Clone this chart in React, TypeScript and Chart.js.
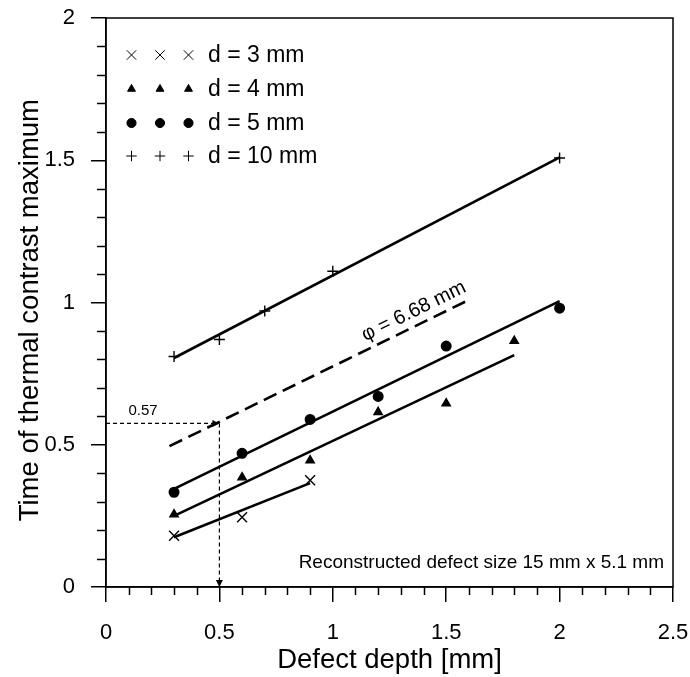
import React, { useEffect, useRef } from 'react';
import { Chart, registerables } from 'chart.js';
import { drawPoint } from 'chart.js/helpers';

Chart.register(...registerables);

const FONT = '"Liberation Sans", Arial, Helvetica, sans-serif';

// Measured series
const d3X = [0.3, 0.6, 0.9];
const d3Y = [0.18, 0.245, 0.375];
const d4X = [0.3, 0.6, 0.9, 1.2, 1.5, 1.8];
const d4Y = [0.255, 0.385, 0.445, 0.615, 0.645, 0.865];
const d5X = [0.3, 0.6, 0.9, 1.2, 1.5, 2.0];
const d5Y = [0.333, 0.47, 0.589, 0.67, 0.847, 0.98];
const d10X = [0.3, 0.5, 0.7, 1.0, 2.0];
const d10Y = [0.81, 0.87, 0.97, 1.11, 1.508];

// Fitted lines (start/end)
const fit3X = [0.3, 0.9];
const fit3Y = [0.175, 0.365];
const fit4X = [0.3, 1.8];
const fit4Y = [0.25, 0.815];
const fit5X = [0.3, 2.0];
const fit5Y = [0.345, 1.005];
const fit10X = [0.3, 2.0];
const fit10Y = [0.805, 1.51];
const phiX = [0.28, 1.61];
const phiY = [0.495, 1.013];

// Guide (reading of 0.57 at depth 0.5)
const guideDepth = 0.5;
const guideTime = 0.575;

const legendLabels = ['d = 3 mm', 'd = 4 mm', 'd = 5 mm', 'd = 10 mm'];
const pointStyles = ['crossRot', 'triangle', 'circle', 'cross'];
const pointRadii = [7, 4.8, 4.8, 5.5];

const xTicks = [0, 0.5, 1, 1.5, 2, 2.5];
const yTicks = [0, 0.5, 1, 1.5, 2];
const minorStep = 0.1;

const phiLabel = 'φ = 6.68 mm';
const guideLabel = '0.57';
const noteLabel = 'Reconstructed defect size 15 mm x 5.1 mm';

const pts = (xs: number[], ys: number[]) => xs.map((x, i) => ({ x, y: ys[i] }));

const minorTicksPlugin = {
  id: 'minorTicks',
  afterDraw(chart: any) {
    const { ctx, chartArea, scales } = chart;
    const xs = scales.x;
    const ys = scales.y;
    ctx.save();
    ctx.strokeStyle = '#000';
    ctx.lineWidth = 1.5;
    ctx.beginPath();
    for (let i = 1; i < 25; i++) {
      if (i % 5 === 0) continue;
      const px = Math.round(xs.getPixelForValue(i * minorStep)) + 0.5;
      ctx.moveTo(px, chartArea.bottom);
      ctx.lineTo(px, chartArea.bottom + 8);
    }
    for (let i = 1; i < 20; i++) {
      if (i % 5 === 0) continue;
      const py = Math.round(ys.getPixelForValue(i * minorStep)) + 0.5;
      ctx.moveTo(chartArea.left, py);
      ctx.lineTo(chartArea.left - 9, py);
    }
    ctx.stroke();
    // frame
    ctx.lineWidth = 1.5;
    ctx.strokeRect(chartArea.left, chartArea.top, chartArea.right - chartArea.left, chartArea.bottom - chartArea.top);
    ctx.restore();
  },
};

const annotationsPlugin = {
  id: 'annotations',
  afterDraw(chart: any) {
    const { ctx, chartArea, scales } = chart;
    const xs = scales.x;
    const ys = scales.y;
    ctx.save();
    ctx.fillStyle = '#000';
    ctx.strokeStyle = '#000';

    // arrowheads on guides
    const gx = xs.getPixelForValue(guideDepth);
    const gy = ys.getPixelForValue(guideTime);
    const y0 = ys.getPixelForValue(0);
    ctx.beginPath();
    ctx.moveTo(gx, gy);
    ctx.lineTo(gx - 7, gy - 3.5);
    ctx.lineTo(gx - 7, gy + 3.5);
    ctx.closePath();
    ctx.fill();
    ctx.beginPath();
    ctx.moveTo(gx, y0);
    ctx.lineTo(gx - 3.5, y0 - 7);
    ctx.lineTo(gx + 3.5, y0 - 7);
    ctx.closePath();
    ctx.fill();

    // guide label
    ctx.font = `15px ${FONT}`;
    ctx.textAlign = 'center';
    ctx.textBaseline = 'middle';
    ctx.fillText(guideLabel, chartArea.left + 37, gy - 13);

    // note
    ctx.font = `19px ${FONT}`;
    ctx.textAlign = 'right';
    ctx.fillText(noteLabel, chartArea.right - 9, chartArea.bottom - 24);

    // phi label along dashed line
    const p1x = xs.getPixelForValue(phiX[0]);
    const p1y = ys.getPixelForValue(phiY[0]);
    const p2x = xs.getPixelForValue(phiX[1]);
    const p2y = ys.getPixelForValue(phiY[1]);
    const ang = Math.atan2(p2y - p1y, p2x - p1x);
    const t = 0.83;
    const cx = p1x + (p2x - p1x) * t;
    const cy = p1y + (p2y - p1y) * t;
    ctx.translate(cx, cy);
    ctx.rotate(ang);
    ctx.font = `20px ${FONT}`;
    ctx.textAlign = 'center';
    ctx.textBaseline = 'middle';
    ctx.fillText(phiLabel, 0, -14);
    ctx.restore();

    // legend
    ctx.save();
    ctx.fillStyle = '#000';
    ctx.strokeStyle = '#000';
    const rowY = [55, 89, 123, 156];
    const markX = [131.5, 160, 188.5];
    legendLabels.forEach((lab, i) => {
      markX.forEach((mx) => {
        ctx.beginPath();
        drawPoint(ctx, { pointStyle: pointStyles[i], radius: pointRadii[i] * 0.95, rotation: 0, borderWidth: 1.4 } as any, mx, rowY[i]);
      });
      ctx.font = `23px ${FONT}`;
      ctx.textAlign = 'left';
      ctx.textBaseline = 'middle';
      ctx.fillText(lab, 208, rowY[i] + 1);
    });
    ctx.restore();
  },
};

export default function App() {
  const ref = useRef<HTMLCanvasElement | null>(null);
  useEffect(() => {
    if (!ref.current) return;
    const markerSets = [pts(d3X, d3Y), pts(d4X, d4Y), pts(d5X, d5Y), pts(d10X, d10Y)];
    const scatterSets = markerSets.map((data, i) => ({
      label: legendLabels[i],
      data,
      showLine: false,
      pointStyle: pointStyles[i],
      pointRadius: pointRadii[i],
      pointBackgroundColor: '#000',
      pointBorderColor: '#000',
      pointBorderWidth: 1.4,
    }));
    const lineSet = (xs: number[], ys: number[], dash: number[] = [], width = 2.6) => ({
      data: pts(xs, ys),
      showLine: true,
      borderColor: '#000',
      borderWidth: width,
      borderDash: dash,
      pointRadius: 0,
      fill: false,
      borderCapStyle: 'butt',
    });
    const fmt = (v: any) => String(Number(v));
    const chart = new Chart(ref.current, {
      type: 'scatter',
      data: {
        datasets: [
          lineSet(fit3X, fit3Y),
          lineSet(fit4X, fit4Y),
          lineSet(fit5X, fit5Y),
          lineSet(fit10X, fit10Y),
          lineSet(phiX, phiY, [14, 7]),
          { ...lineSet([0, guideDepth], [guideTime, guideTime], [4, 3], 1.2), clip: false },
          { ...lineSet([guideDepth, guideDepth], [guideTime, 0], [4, 3], 1.2), clip: false },
          ...scatterSets,
        ] as any,
      },
      options: {
        responsive: false,
        animation: false,
        devicePixelRatio: 1,
        layout: { padding: { top: 18, right: 17, left: 0, bottom: 0 } },
        plugins: { legend: { display: false }, tooltip: { enabled: false } },
        scales: {
          x: {
            type: 'linear',
            min: 0,
            max: 2.5,
            afterFit: (s: any) => { s.height = 90; s.paddingRight = 0; s.paddingLeft = 0; },
            afterBuildTicks: (s: any) => { s.ticks = xTicks.map((v) => ({ value: v })); },
            grid: { drawOnChartArea: false, drawTicks: true, tickLength: 15, color: '#000', lineWidth: 1.5 },
            border: { display: true, color: '#000', width: 1.5 },
            ticks: { color: '#000', font: { family: FONT, size: 22 }, padding: 18, maxRotation: 0, autoSkip: false, callback: fmt },
            title: { display: true, text: 'Defect depth [mm]', color: '#000', font: { family: FONT, size: 27.5 }, padding: { top: 0, bottom: 0 } },
          },
          y: {
            type: 'linear',
            min: 0,
            max: 2,
            afterFit: (s: any) => { s.width = 106; s.paddingTop = 0; s.paddingBottom = 0; },
            afterBuildTicks: (s: any) => { s.ticks = yTicks.map((v) => ({ value: v })); },
            grid: { drawOnChartArea: false, drawTicks: true, tickLength: 15, color: '#000', lineWidth: 1.5 },
            border: { display: true, color: '#000', width: 1.5 },
            ticks: { color: '#000', font: { family: FONT, size: 22 }, padding: 16, autoSkip: false, callback: fmt },
            title: { display: true, text: 'Time of thermal contrast maximum  ', color: '#000', font: { family: FONT, size: 27.5 }, padding: { top: 14, bottom: 0 } },
          },
        },
      } as any,
      plugins: [minorTicksPlugin, annotationsPlugin],
    });
    return () => chart.destroy();
  }, []);
  return (
    <div style={{ position: 'absolute', left: 0, top: 0, width: 690, height: 677, background: '#fff' }}>
      <canvas ref={ref} width={690} height={677} />
    </div>
  );
}
